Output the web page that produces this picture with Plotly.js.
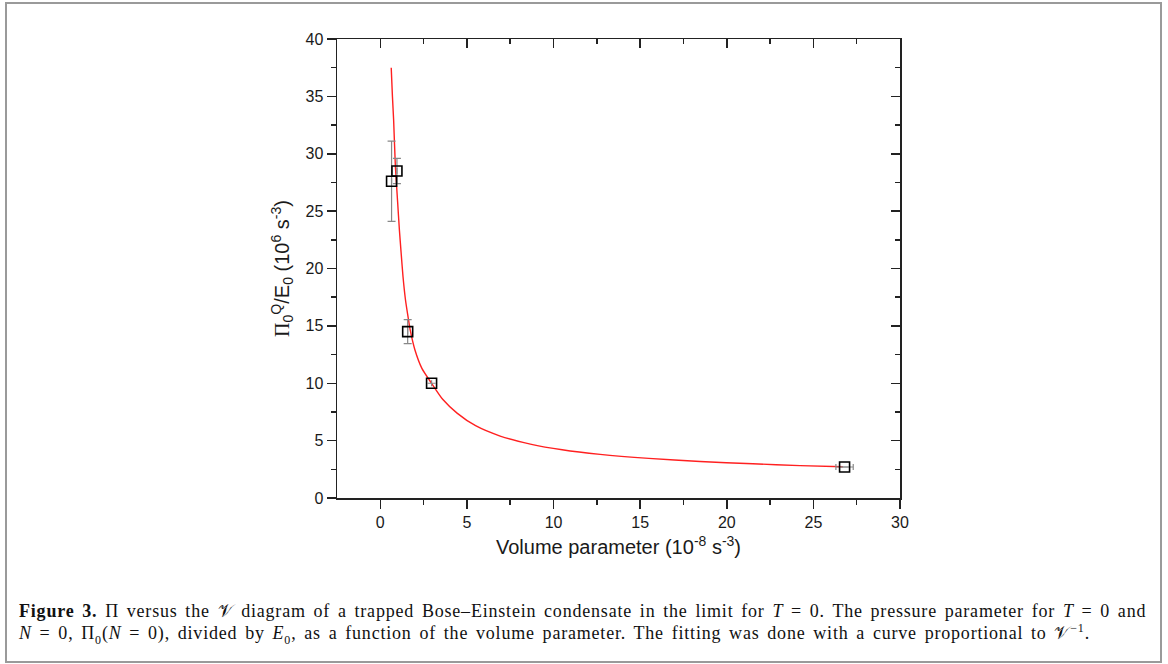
<!DOCTYPE html>
<html>
<head>
<meta charset="utf-8">
<script src="https://cdn.plot.ly/plotly-3.0.1.min.js"></script>
<style>
html,body{margin:0;padding:0;background:#fff;}
#wrap{position:relative;width:1168px;height:664px;}
#chart{position:absolute;left:0;top:0;width:1168px;height:664px;}
#caption{position:absolute;left:19px;top:600px;font-family:'Liberation Serif','Times New Roman',serif;font-size:18px;line-height:22px;color:#111;white-space:nowrap;letter-spacing:0.8px;word-spacing:2.5px;}
#caption sub,#caption sup{font-size:12px;line-height:0;}
</style>
</head>
<body>
<div id="wrap">
<div id="chart"></div>
<div id="caption"><b>Figure 3.</b> Π versus the 𝒱 diagram of a trapped Bose–Einstein condensate in the limit for <i>T</i> = 0. The pressure parameter for <i>T</i> = 0 and<br><i>N</i> = 0, Π<sub>0</sub>(<i>N</i> = 0), divided by <i>E</i><sub>0</sub>, as a function of the volume parameter. The fitting was done with a curve proportional to 𝒱<sup>−1</sup>.</div>
</div>
<script>
// Measured data points (volume parameter, 1e-8 s^-3) and Pi_0^Q/E_0 (1e6 s^-3)
const volX = [0.65, 0.96, 1.58, 2.96, 26.8];
const piY = [27.6, 28.5, 14.5, 10.0, 2.7];
const piErr = [3.5, 1.1, 1.05, 0, 0];
const volErr = [0, 0, 0, 0, 0.5];

// Fit curve
const fitX = [0.63, 0.7, 0.77, 0.87, 1.0, 1.1, 1.2, 1.31, 1.45, 1.6, 1.73, 2.0, 2.4, 2.98, 3.6, 4.43, 5.5, 6.92, 8.66, 10.5, 12.69, 15.5, 18.46, 21.5, 24.23, 26.7];
const fitY = [37.5, 35.0, 32.9, 28.9, 25.8, 23.4, 21.4, 19.3, 17.3, 15.8, 14.6, 12.9, 11.3, 9.95, 8.6, 7.4, 6.3, 5.4, 4.7, 4.2, 3.8, 3.45, 3.18, 2.98, 2.82, 2.72];

const xTicks = [0, 5, 10, 15, 20, 25, 30];
const yTicks = [0, 5, 10, 15, 20, 25, 30, 35, 40];
const xMinor = [2.5, 7.5, 12.5, 17.5, 22.5, 27.5];
const yMinor = [2.5, 7.5, 12.5, 17.5, 22.5, 27.5, 32.5, 37.5];

const axisFont = {family: 'Liberation Sans, Arial, sans-serif', size: 16, color: '#1a1a1a'};

const traces = [
  {
    x: fitX, y: fitY, mode: 'lines', type: 'scatter',
    line: {color: '#ff2020', width: 1.4, shape: 'spline', smoothing: 0.6},
    hoverinfo: 'skip', showlegend: false
  },
  {
    x: volX, y: piY, mode: 'markers', type: 'scatter',
    marker: {symbol: 'square-open', size: 10, color: '#000', line: {width: 1.6, color: '#000'}},
    error_y: {type: 'data', array: piErr, visible: true, color: '#888', thickness: 1.2, width: 4},
    error_x: {type: 'data', array: volErr, visible: true, color: '#888', thickness: 1.2, width: 3},
    showlegend: false
  },
  {x: [null], y: [null], xaxis: 'x2', yaxis: 'y2', mode: 'markers', showlegend: false, hoverinfo: 'skip'}
];

function px2paperX(p){ return (p - 337) / (900 - 337); }
function px2paperY(p){ return (498 - p) / (498 - 39); }

const layout = {
  width: 1168, height: 664,
  margin: {l: 337, r: 268, t: 39, b: 166},
  paper_bgcolor: 'rgba(0,0,0,0)', plot_bgcolor: '#fff',
  showlegend: false,
  xaxis: {
    range: [-2.5, 30], tickvals: xTicks, ticks: 'outside', ticklen: 9, tickwidth: 1.5, tickcolor: '#222',
    showline: true, linecolor: '#222', linewidth: 1.5, showgrid: false, zeroline: false,
    tickfont: axisFont,
    minor: {ticks: 'outside', ticklen: 5, tickwidth: 1.5, tickcolor: '#222', tickvals: xMinor, showgrid: false},
    title: {text: 'Volume parameter (10<sup>-8</sup> s<sup>-3</sup>)', font: {family: 'Liberation Sans, Arial, sans-serif', size: 20, color: '#1a1a1a'}, standoff: 10}
  },
  yaxis: {
    range: [0, 40], tickvals: yTicks, ticks: 'outside', ticklen: 9, tickwidth: 1.5, tickcolor: '#222',
    showline: true, linecolor: '#222', linewidth: 1.5, showgrid: false, zeroline: false,
    tickfont: axisFont,
    minor: {ticks: 'outside', ticklen: 5, tickwidth: 1.5, tickcolor: '#222', tickvals: yMinor, showgrid: false},
    title: {text: '<span style="font-family:Liberation Serif">Π</span><sub>0</sub><sup>Q</sup>/E<sub>0</sub> (10<sup>6</sup> s<sup>-3</sup>)', font: {family: 'Liberation Sans, Arial, sans-serif', size: 20, color: '#1a1a1a'}, standoff: 10}
  },
  xaxis2: {
    overlaying: 'x', side: 'top', anchor: 'y', range: [-2.5, 30], tickvals: xTicks,
    ticks: 'inside', ticklen: 9, tickwidth: 1.5, tickcolor: '#222', showticklabels: false,
    showline: true, linecolor: '#222', linewidth: 1.5, showgrid: false, zeroline: false,
    minor: {ticks: 'inside', ticklen: 5, tickwidth: 1.5, tickcolor: '#222', tickvals: xMinor, showgrid: false}
  },
  yaxis2: {
    overlaying: 'y', side: 'right', anchor: 'x', range: [0, 40], tickvals: yTicks,
    ticks: 'inside', ticklen: 9, tickwidth: 1.5, tickcolor: '#222', showticklabels: false,
    showline: true, linecolor: '#222', linewidth: 1.5, showgrid: false, zeroline: false,
    minor: {ticks: 'inside', ticklen: 5, tickwidth: 1.5, tickcolor: '#222', tickvals: yMinor, showgrid: false}
  },
  shapes: [
    {type: 'rect', xref: 'paper', yref: 'paper',
     x0: px2paperX(6), x1: px2paperX(1161), y0: px2paperY(662), y1: px2paperY(3),
     line: {color: '#9a9a9a', width: 2}, fillcolor: 'rgba(0,0,0,0)', layer: 'below'}
  ]
};

Plotly.newPlot('chart', traces, layout, {staticPlot: true, displayModeBar: false});
</script>
</body>
</html>
